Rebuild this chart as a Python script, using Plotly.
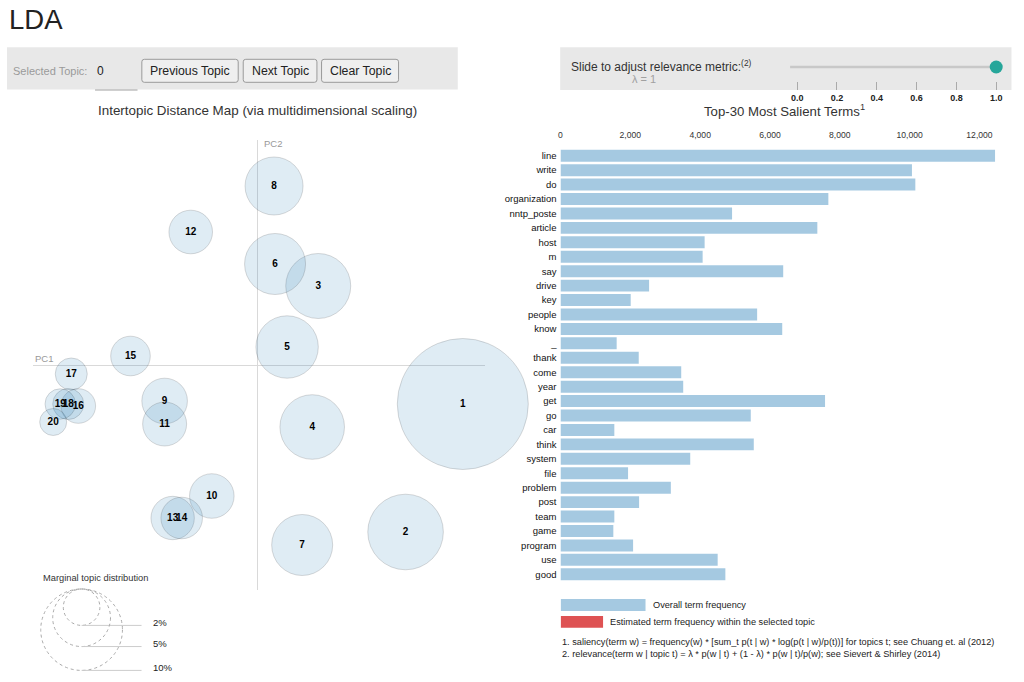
import numpy as np
import plotly.graph_objects as go

W, H = 1024, 682
OFFX, PW = 8, 1008   # measured: the paper is drawn 1008px wide starting at x=8

# ---------------- data ----------------
topic_ids = [str(i) for i in range(1, 21)]
pc1 = [0.204, 0.147, 0.060, 0.054, 0.029, 0.017, 0.044, 0.016, -0.093, -0.046,
       -0.093, -0.067, -0.085, -0.076, -0.127, -0.179, -0.186, -0.189, -0.197, -0.204]
pc2 = [-0.039, -0.167, 0.079, -0.062, 0.018, 0.101, -0.180, 0.179, -0.036, -0.131,
       -0.059, 0.133, -0.153, -0.153, 0.009, -0.041, -0.009, -0.039, -0.039, -0.057]
marginal_pct = [25.9, 8.63, 6.38, 6.30, 5.88, 5.62, 5.62, 5.08, 3.14, 3.00,
                2.92, 2.87, 2.84, 2.61, 2.37, 1.81, 1.55, 1.45, 1.40, 1.10]

terms = ["line", "write", "do", "organization", "nntp_poste", "article", "host", "m",
         "say", "drive", "key", "people", "know", "_", "thank", "come", "year", "get",
         "go", "car", "think", "system", "file", "problem", "post", "team", "game",
         "program", "use", "good"]
term_freq = [12451, 10066, 10163, 7672, 4914, 7356, 4128, 4071,
             6379, 2538, 2011, 5632, 6351, 1609, 2241, 3458, 3515, 7577,
             5450, 1542, 5536, 3716, 1935, 3161, 2251, 1542, 1513,
             2079, 4502, 4722]
freq_ticks = [0, 2000, 4000, 6000, 8000, 10000, 12000]

lambda_value = 1.0
lambda_ticks = [0.0, 0.2, 0.4, 0.6, 0.8, 1.0]
legend_pcts = [2, 5, 10]

FONT = "Liberation Sans"


def X(px):
    return (px - OFFX) / PW


def Y(py):
    return 1 - py / H


def radius_px(p):
    # radius of a topic circle (px) for a marginal share p (%)
    return 40.7 * np.sqrt(np.asarray(p, dtype=float) / 10.0)


fig = go.Figure()

# ---------------- intertopic distance map ----------------
fig.add_trace(go.Scatter(
    x=pc1, y=pc2, mode="markers+text", text=topic_ids,
    textposition="middle center",
    textfont=dict(family=FONT, size=10, color="#000", weight="bold"),
    marker=dict(size=2 * radius_px(marginal_pct), sizemode="diameter",
                color="rgba(31,119,180,0.2)",
                line=dict(color="rgba(0,0,0,0.2)", width=1)),
    cliponaxis=False, hoverinfo="text", showlegend=False,
    xaxis="x", yaxis="y"))

# ---------------- salient terms bars ----------------
fig.add_trace(go.Bar(
    x=term_freq, y=terms, orientation="h",
    marker=dict(color="rgba(31,119,180,0.4)", line=dict(width=0)),
    showlegend=False, xaxis="x2", yaxis="y2"))

# ---------------- lambda slider handle ----------------
fig.add_trace(go.Scatter(
    x=[lambda_value], y=[1], mode="markers",
    marker=dict(size=13, color="#26a69a", line=dict(width=0)),
    cliponaxis=False, showlegend=False, hoverinfo="skip",
    xaxis="x3", yaxis="y3"))

shapes = []
ann = []

# panels
shapes.append(dict(type="rect", xref="paper", yref="paper", x0=X(9), x1=X(458),
                   y0=Y(89.5), y1=Y(47.3), fillcolor="#e8e8e8", line=dict(width=0), layer="below"))
shapes.append(dict(type="rect", xref="paper", yref="paper", x0=X(560), x1=X(1009.5),
                   y0=Y(90), y1=Y(47.3), fillcolor="#e8e8e8", line=dict(width=0), layer="below"))
# input underline
shapes.append(dict(type="line", xref="paper", yref="paper", x0=X(96.7), x1=X(139),
                   y0=Y(90), y1=Y(90), line=dict(color="#a0a0a0", width=1)))


def rrect(x0, y0, x1, y1, r=2.5):
    pts = [("M", x0 + r, y0), ("L", x1 - r, y0), ("Q", x1, y0, x1, y0 + r),
           ("L", x1, y1 - r), ("Q", x1, y1, x1 - r, y1), ("L", x0 + r, y1),
           ("Q", x0, y1, x0, y1 - r), ("L", x0, y0 + r), ("Q", x0, y0, x0 + r, y0)]
    s = ""
    for p in pts:
        cmd = p[0]
        coords = p[1:]
        seg = []
        for i in range(0, len(coords), 2):
            seg.append(f"{X(coords[i]):.5f},{Y(coords[i+1]):.5f}")
        s += cmd + " " + " ".join(seg) + " "
    return s + "Z"


buttons = [("Previous Topic", 143.3, 239.3), ("Next Topic", 244.3, 317.7), ("Clear Topic", 322.3, 399)]
for label, bx0, bx1 in buttons:
    shapes.append(dict(type="path", xref="paper", yref="paper", path=rrect(bx0, 59.3, bx1, 82.3),
                       fillcolor="#efefef", line=dict(color="#9a9a9a", width=1)))
    ann.append(dict(text=label, x=X((bx0 + bx1) / 2), y=Y(71), xref="paper", yref="paper",
                    xanchor="center", yanchor="middle", showarrow=False,
                    font=dict(family=FONT, size=12.3, color="#222")))

# slider track
shapes.append(dict(type="line", xref="paper", yref="paper", x0=X(789), x1=X(994),
                   y0=Y(67), y1=Y(67), line=dict(color="#c8c8c8", width=2.5), layer="below"))

# marginal topic distribution legend
cx = 83.3
top = 589
for p in legend_pcts:
    r = float(radius_px(p))
    shapes.append(dict(type="circle", xref="paper", yref="paper",
                       x0=X(cx - r), x1=X(cx + r), y0=Y(top + 2 * r), y1=Y(top),
                       line=dict(color="#aaa", width=1, dash="dot")))
    shapes.append(dict(type="line", xref="paper", yref="paper", x0=X(cx), x1=X(143),
                       y0=Y(top + 2 * r), y1=Y(top + 2 * r), line=dict(color="#ccc", width=1)))
    ann.append(dict(text=f"{p}%", x=X(152), y=Y(top + 2 * r - 3), xref="paper", yref="paper",
                    xanchor="left", yanchor="middle", showarrow=False,
                    font=dict(family=FONT, size=9.5, color="#222")))

# bar legend
shapes.append(dict(type="rect", xref="paper", yref="paper", x0=X(560.7), x1=X(645),
                   y0=Y(611), y1=Y(599), fillcolor="rgba(31,119,180,0.4)", line=dict(width=0)))
shapes.append(dict(type="rect", xref="paper", yref="paper", x0=X(560.7), x1=X(602.7),
                   y0=Y(627.7), y1=Y(616), fillcolor="rgba(214,39,40,0.8)", line=dict(width=0)))


def text(t, x, y, size, color="#222", xanchor="left", weight="normal"):
    ann.append(dict(text=t, x=X(x), y=Y(y), xref="paper", yref="paper", xanchor=xanchor,
                    yanchor="middle", showarrow=False,
                    font=dict(family=FONT, size=size, color=color, weight=weight)))


text("LDA", 9, 20, 27.5, "#222")
text("Selected Topic:", 12.5, 71, 11, "#9a9a9a")
text("0", 96.7, 71, 12, "#222")
text("Slide to adjust relevance metric:<sup>(2)</sup>", 569, 66, 12, "#333")
text("λ = 1", 643, 78.5, 11, "#a0a0a0", xanchor="center")
text("Intertopic Distance Map (via multidimensional scaling)", 259, 110.5, 13.4, "#333", xanchor="center")
text("Top-30 Most Salient Terms<sup>1</sup>", 783, 110.5, 13.2, "#333", xanchor="center")
text("PC1", 35, 358, 9.5, "#999")
text("PC2", 263, 143.5, 9.5, "#999")
text("Marginal topic distribution", 43.3, 578, 9.3, "#333")
text("Overall term frequency", 650, 604.7, 9.2, "#222")
text("Estimated term frequency within the selected topic", 607.7, 621.7, 9.2, "#222")
text("1. saliency(term w) = frequency(w) * [sum_t p(t | w) * log(p(t | w)/p(t))] for topics t; see Chuang et. al (2012)",
     560, 641.7, 9.2, "#222")
text("2. relevance(term w | topic t) = λ * p(w | t) + (1 - λ) * p(w | t)/p(w); see Sievert &amp; Shirley (2014)",
     560, 653.5, 9.2, "#222")

fig.update_layout(
    width=W, height=H, autosize=False, margin=dict(l=0, r=0, t=0, b=0, pad=0),
    paper_bgcolor="white", plot_bgcolor="rgba(0,0,0,0)",
    font=dict(family=FONT, color="#222"),
    shapes=shapes, annotations=ann, bargap=0.17,
    xaxis=dict(domain=[X(35), X(485)], range=[-0.224, 0.226], showgrid=False,
               zeroline=True, zerolinecolor="#d9d9d9", zerolinewidth=1.2,
               showticklabels=False, ticks="", anchor="y", fixedrange=True),
    yaxis=dict(domain=[Y(590), Y(140)], range=[-0.225, 0.225], showgrid=False,
               zeroline=True, zerolinecolor="#d9d9d9", zerolinewidth=1.2,
               showticklabels=False, ticks="", anchor="x", fixedrange=True),
    xaxis2=dict(domain=[X(560.3), X(993.3)], range=[0, max(term_freq)], side="top",
                anchor="y2", tickvals=freq_ticks, tickformat=",d", showgrid=False,
                zeroline=False, ticks="", ticklabelstandoff=8,
                tickfont=dict(family=FONT, size=8.6, color="#333")),
    yaxis2=dict(domain=[Y(581.5), Y(148.5)], anchor="x2", type="category",
                categoryorder="array", categoryarray=terms, autorange="reversed",
                showgrid=False, zeroline=False, ticks="", ticklabelstandoff=3,
                tickfont=dict(family=FONT, size=9.5, color="#111")),
    xaxis3=dict(domain=[X(796), X(994.3)], range=[0, 1], anchor="y3",
                tickvals=lambda_ticks, tickformat=".1f", showgrid=False, zeroline=False,
                showline=False, ticks="outside", ticklen=8, tickcolor="#aaa", tickwidth=1,
                tickfont=dict(family=FONT, size=9, color="#222", weight="bold"), fixedrange=True),
    yaxis3=dict(domain=[Y(81), Y(67)], range=[0, 1], anchor="x3", showgrid=False,
                zeroline=False, showticklabels=False, ticks="", fixedrange=True),
)

fig.write_html("out.html", config={"displayModeBar": False},
               post_script="document.body.style.margin='0';document.body.style.overflow='hidden';")
